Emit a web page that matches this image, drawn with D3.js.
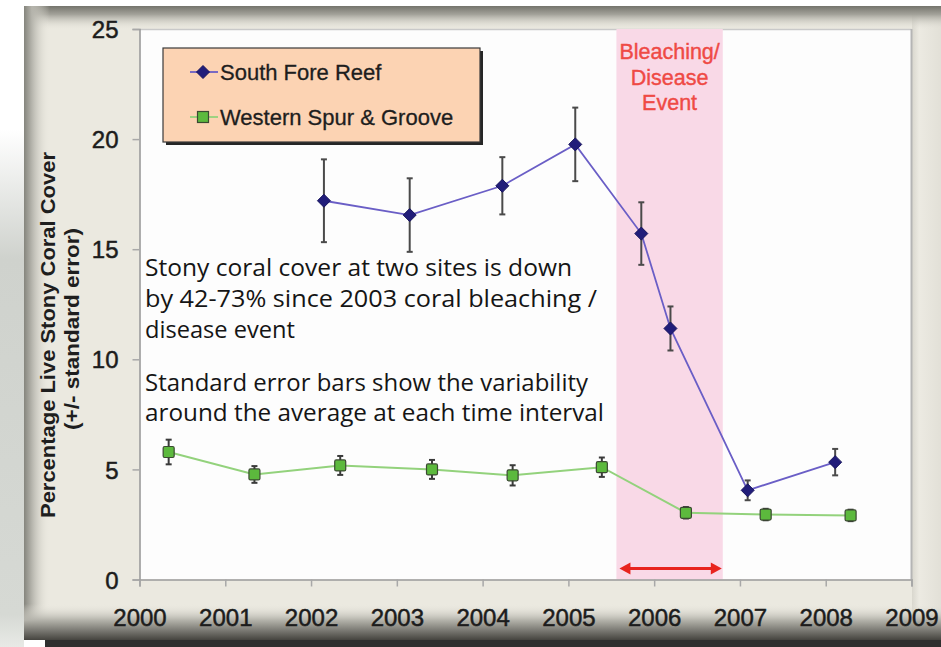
<!DOCTYPE html>
<html>
<head>
<meta charset="utf-8">
<script src="https://cdn.jsdelivr.net/npm/d3@7"></script>
<style>
  html, body { margin: 0; padding: 0; background: #ffffff; }
  svg { display: block; }
</style>
</head>
<body>
<svg id="chart" width="941" height="647"></svg>
<script>
// ---------------- DATA ----------------
const xTicks = [2000, 2001, 2002, 2003, 2004, 2005, 2006, 2007, 2008, 2009];
const yTicks = [0, 5, 10, 15, 20, 25];

const southName = "South Fore Reef";
const southX   = [2002.15, 2003.15, 2004.23, 2005.08, 2005.85, 2006.19, 2007.09, 2008.11];
const southY   = [17.2, 16.55, 17.88, 19.76, 15.71, 11.4, 4.05, 5.33];
const southErr = [1.88, 1.67, 1.3, 1.67, 1.42, 1.0, 0.45, 0.6];

const westName = "Western Spur & Groove";
const westX   = [2000.34, 2001.34, 2002.34, 2003.41, 2004.35, 2005.39, 2006.37, 2007.30, 2008.29];
const westY   = [5.79, 4.77, 5.18, 5.0, 4.73, 5.1, 3.03, 2.95, 2.91];
const westErr = [0.56, 0.38, 0.43, 0.43, 0.46, 0.44, 0.26, 0.26, 0.26];

const eventStart = 2005.56;
const eventEnd   = 2006.80;
const eventLabel = ["Bleaching/", "Disease", "Event"];

const yTitle = ["Percentage Live Stony Coral Cover", "(+/- standard error)"];
const noteLines = [
  "Stony coral cover at two sites is down",
  "by 42-73% since 2003 coral bleaching /",
  "disease event",
  "Standard error bars show the variability",
  "around the average at each time interval"
];

// ---------------- SETUP ----------------
const svg = d3.select("#chart");
const W = 941, H = 647;
const plot = { left: 139.5, right: 911.5, top: 29, bottom: 579.5 };

const x = d3.scaleLinear().domain([2000, 2009]).range([plot.left, plot.right]);
const y = d3.scaleLinear().domain([0, 25]).range([plot.bottom, plot.top]);

const defs = svg.append("defs");
function lin(id, x1, y1, x2, y2, stops) {
  const g = defs.append("linearGradient").attr("id", id)
    .attr("x1", x1).attr("y1", y1).attr("x2", x2).attr("y2", y2);
  stops.forEach(s => g.append("stop").attr("offset", s[0]).attr("stop-color", s[1]).attr("stop-opacity", s[2] === undefined ? 1 : s[2]));
}
lin("outerLeft", 0, 0, 0, 1, [[0, "#ffffff"], [0.2, "#ffffff"], [0.4, "#cfd2cd"], [0.95, "#d6d9d4"], [1, "#e8eae6"]]);
lin("bevelTop", 0, 0, 0, 1, [[0, "#74746c"], [0.35, "#a3a29a"], [1, "#ebe9e0", 0]]);
lin("bevelLeft", 0, 0, 1, 0, [[0, "#85857d"], [0.3, "#b5b4ac"], [1, "#ebe9e0", 0]]);
lin("bevelBottom", 0, 0, 0, 1, [[0, "#ebe9e0", 0], [0.45, "#b3b2aa"], [1, "#45443f"]]);
lin("bevelRight", 0, 0, 1, 0, [[0, "#d9d7ce"], [0.25, "#ecEAe2"], [1, "#e2e0d7"]]);

// ---------------- FRAME ----------------
svg.append("rect").attr("x", 0).attr("y", 0).attr("width", 24).attr("height", H).attr("fill", "url(#outerLeft)");
svg.append("rect").attr("x", 24).attr("y", 6).attr("width", W - 24).attr("height", 634).attr("fill", "#ebe9e0");
svg.append("rect").attr("x", 912).attr("y", 6).attr("width", 29).attr("height", 634).attr("fill", "url(#bevelRight)");
svg.append("rect").attr("x", 24).attr("y", 6).attr("width", W - 24).attr("height", 24).attr("fill", "url(#bevelTop)");
svg.append("rect").attr("x", 24).attr("y", 6).attr("width", 26).attr("height", 634).attr("fill", "url(#bevelLeft)");
svg.append("rect").attr("x", 24).attr("y", 604).attr("width", W - 24).attr("height", 36).attr("fill", "url(#bevelBottom)");
svg.append("rect").attr("x", 45).attr("y", 640).attr("width", W - 45).attr("height", 7).attr("fill", "#2f2f2f");

// plot area
svg.append("rect").attr("x", plot.left).attr("y", plot.top)
  .attr("width", plot.right - plot.left).attr("height", plot.bottom - plot.top)
  .attr("fill", "#fdfdfd");
svg.append("line").attr("x1", plot.left).attr("x2", plot.right).attr("y1", plot.top + 0.5).attr("y2", plot.top + 0.5)
  .attr("stroke", "#c9c9c9").attr("stroke-width", 1.5);
svg.append("line").attr("x1", plot.right).attr("x2", plot.right).attr("y1", plot.top).attr("y2", plot.bottom)
  .attr("stroke", "#b5b5b5").attr("stroke-width", 2);

// event band
svg.append("rect").attr("x", x(eventStart)).attr("y", plot.top)
  .attr("width", x(eventEnd) - x(eventStart)).attr("height", plot.bottom - plot.top)
  .attr("fill", "#f9d9e7");

// ---------------- AXES ----------------
const yAxis = svg.append("g").attr("transform", `translate(${plot.left},0)`)
  .call(d3.axisLeft(y).tickValues(yTicks).tickSize(7).tickPadding(14).tickFormat(d3.format("d")));
const xAxis = svg.append("g").attr("transform", `translate(0,${plot.bottom})`)
  .call(d3.axisBottom(x).tickValues(xTicks).tickSize(7).tickPadding(22).tickFormat(d3.format("d")));
[yAxis, xAxis].forEach(a => {
  a.select(".domain").attr("stroke", "#9a9a9a").attr("stroke-width", 1.6);
  a.selectAll(".tick line").attr("stroke", "#a8a8a8").attr("stroke-width", 1.5);
  a.selectAll(".tick text").attr("fill", "#1c1c1c").attr("stroke", "#1c1c1c").attr("stroke-width", 0.5)
    .attr("font-family", "'Liberation Sans', Arial, sans-serif").attr("font-size", 24);
});
yAxis.selectAll(".tick text").attr("dy", "0.36em");

// y title
const yt = svg.append("g").attr("font-family", "'Liberation Sans', Arial, sans-serif")
  .attr("font-weight", "bold").attr("fill", "#1e1e1e").attr("font-size", 20).attr("text-anchor", "middle");
yt.append("text").attr("transform", "translate(55,335) rotate(-90)").attr("textLength", 366)
  .attr("lengthAdjust", "spacingAndGlyphs").text(yTitle[0]);
yt.append("text").attr("transform", "translate(79,329) rotate(-90)").attr("textLength", 202)
  .attr("lengthAdjust", "spacingAndGlyphs").text(yTitle[1]);

// ---------------- ANNOTATIONS ----------------
const noteBase = [276, 307, 338, 391, 421];
const noteLen = [427, 452, 150, 443, 459];
const notes = svg.append("g").attr("font-family", "'Open Sans', 'Noto Sans', sans-serif")
  .attr("font-size", 23).attr("fill", "#151515");
noteLines.forEach((t, i) => {
  notes.append("text").attr("x", 145).attr("y", noteBase[i])
    .attr("textLength", noteLen[i]).attr("lengthAdjust", "spacingAndGlyphs").text(t);
});

// red double arrow
const arrowY = y(0.5);
const ax1 = x(eventStart) + 3, ax2 = x(eventEnd) - 1;
svg.append("line").attr("x1", ax1 + 8).attr("x2", ax2 - 8).attr("y1", arrowY).attr("y2", arrowY)
  .attr("stroke", "#e8241e").attr("stroke-width", 3.2);
svg.append("path").attr("d", `M${ax1},${arrowY} L${ax1 + 11},${arrowY - 6} L${ax1 + 11},${arrowY + 6} Z`).attr("fill", "#e8241e");
svg.append("path").attr("d", `M${ax2},${arrowY} L${ax2 - 11},${arrowY - 6} L${ax2 - 11},${arrowY + 6} Z`).attr("fill", "#e8241e");

// event label
const ev = svg.append("g").attr("font-family", "'Liberation Sans', Arial, sans-serif")
  .attr("font-size", 21.5).attr("fill", "#ef4a45").attr("stroke", "#ef4a45").attr("stroke-width", 0.4)
  .attr("text-anchor", "middle");
const evBase = [59, 84.5, 109.5];
eventLabel.forEach((t, i) => ev.append("text").attr("x", (x(eventStart) + x(eventEnd)) / 2).attr("y", evBase[i]).text(t));

// ---------------- SERIES ----------------
const south = southX.map((d, i) => ({ x: d, y: southY[i], e: southErr[i] }));
const west = westX.map((d, i) => ({ x: d, y: westY[i], e: westErr[i] }));
const line = d3.line().x(d => x(d.x)).y(d => y(d.y));

svg.append("path").datum(west).attr("d", line).attr("fill", "none").attr("stroke", "#93d27c").attr("stroke-width", 2);
svg.append("path").datum(south).attr("d", line).attr("fill", "none").attr("stroke", "#6a5ec6").attr("stroke-width", 1.8);

function errBars(data, color, cap) {
  const g = svg.append("g").attr("stroke", color).attr("stroke-width", 2);
  data.forEach(d => {
    g.append("line").attr("x1", x(d.x)).attr("x2", x(d.x)).attr("y1", y(d.y - d.e)).attr("y2", y(d.y + d.e));
    [d.y - d.e, d.y + d.e].forEach(v => g.append("line")
      .attr("x1", x(d.x) - cap).attr("x2", x(d.x) + cap).attr("y1", y(v)).attr("y2", y(v)));
  });
}
errBars(south, "#4a4a4a", 3);
errBars(west, "#3a3a3a", 3);

const diamond = (cx, cy) => `M${cx},${cy - 6.5} L${cx + 6.5},${cy} L${cx},${cy + 6.5} L${cx - 6.5},${cy} Z`;
svg.append("g").selectAll("path").data(south).join("path")
  .attr("d", d => diamond(x(d.x), y(d.y))).attr("fill", "#211d7a").attr("stroke", "#17145c").attr("stroke-width", 1);
svg.append("g").selectAll("rect").data(west).join("rect")
  .attr("x", d => x(d.x) - 5.5).attr("y", d => y(d.y) - 5.5).attr("width", 11).attr("height", 11)
  .attr("rx", 1.5).attr("fill", "#5cb93d").attr("stroke", "#3b4a32").attr("stroke-width", 1.2);

// ---------------- LEGEND ----------------
const lg = svg.append("g");
lg.append("rect").attr("x", 166).attr("y", 51).attr("width", 317).attr("height", 94).attr("fill", "#262626");
lg.append("rect").attr("x", 163).attr("y", 48).attr("width", 317).attr("height", 94)
  .attr("fill", "#fcd3b3").attr("stroke", "#3a3a3a").attr("stroke-width", 1.2);
const legendItems = [
  { name: southName, cy: 72, color: "#6a5ec6", mark: "d" },
  { name: westName, cy: 117, color: "#93d27c", mark: "s" }
];
legendItems.forEach(it => {
  lg.append("line").attr("x1", 190).attr("x2", 218).attr("y1", it.cy).attr("y2", it.cy)
    .attr("stroke", it.color).attr("stroke-width", 1.8);
  if (it.mark === "d") {
    lg.append("path").attr("d", diamond(203, it.cy)).attr("fill", "#211d7a").attr("stroke", "#17145c");
  } else {
    lg.append("rect").attr("x", 197.5).attr("y", it.cy - 5.5).attr("width", 11).attr("height", 11)
      .attr("fill", "#5cb93d").attr("stroke", "#3b4a32").attr("stroke-width", 1.2);
  }
  lg.append("text").attr("x", 220).attr("y", it.cy + 8)
    .attr("font-family", "'Liberation Sans', Arial, sans-serif").attr("font-size", 22)
    .attr("fill", "#1e1e1e").attr("stroke", "#1e1e1e").attr("stroke-width", 0.3).text(it.name);
});
</script>
</body>
</html>
